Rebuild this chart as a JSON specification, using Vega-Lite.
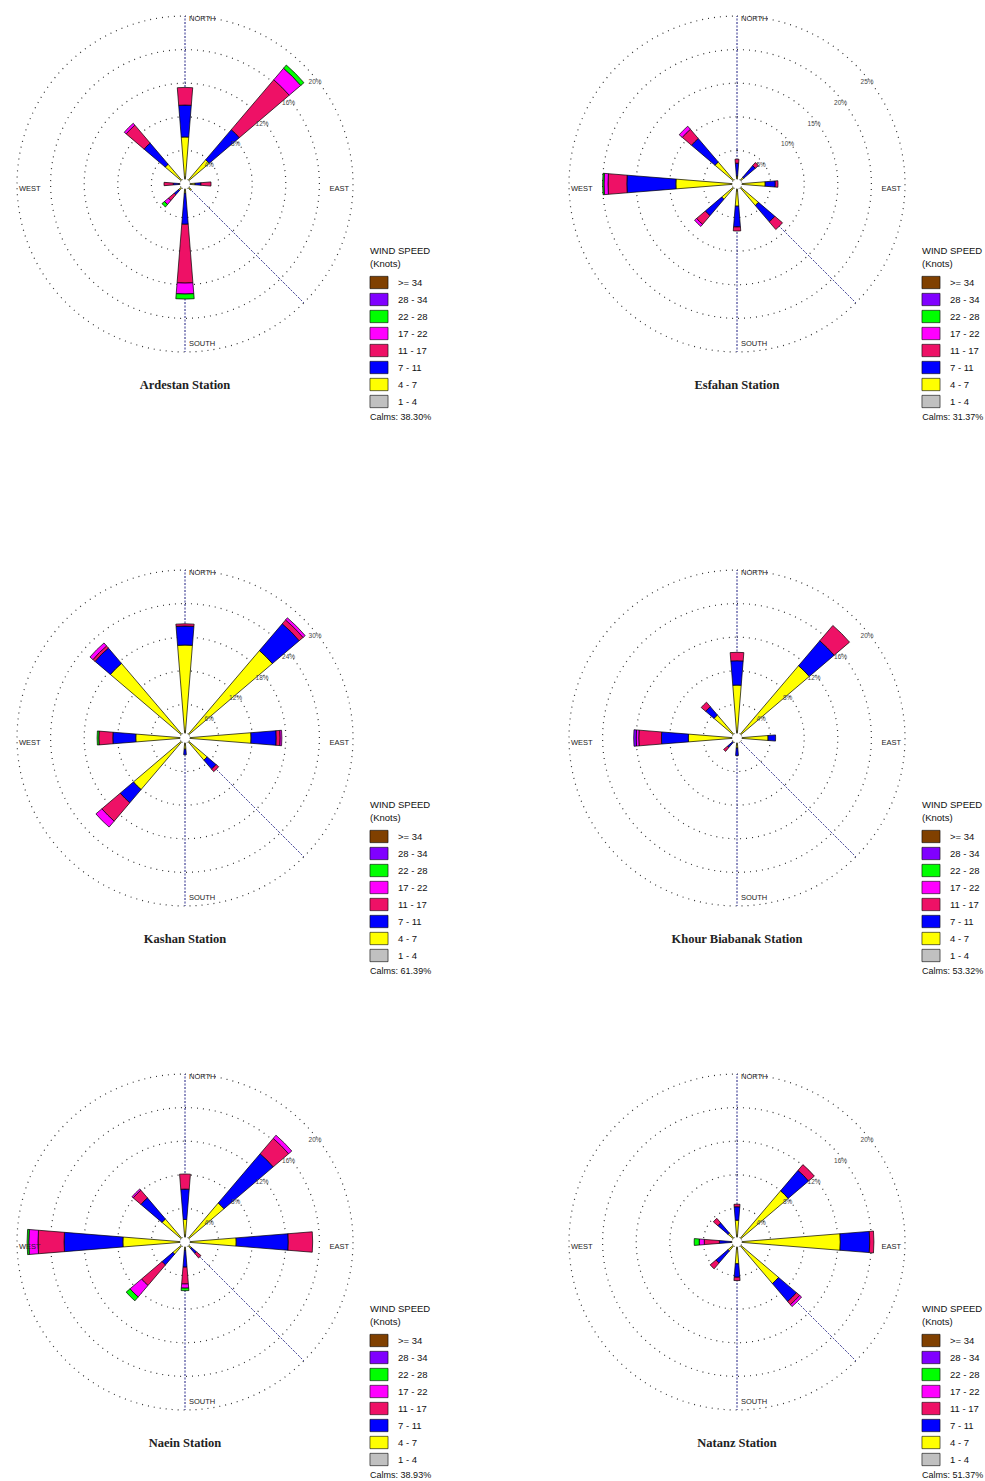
{
"$schema": "https://vega.github.io/schema/vega-lite/v6.json",
"background": "white",
"padding": {"left": 14, "top": 13, "right": 4, "bottom": 4},
"datasets": {
"petals": [
{"st":"Ardestan","dir":0,"spd":"4 - 7","lo":0,"hi":5.6},{"st":"Ardestan","dir":0,"spd":"7 - 11","lo":5.6,"hi":9.4},{"st":"Ardestan","dir":0,"spd":"11 - 17","lo":9.4,"hi":11.5},
{"st":"Ardestan","dir":45,"spd":"4 - 7","lo":0,"hi":3.8},{"st":"Ardestan","dir":45,"spd":"7 - 11","lo":3.8,"hi":8.5},{"st":"Ardestan","dir":45,"spd":"11 - 17","lo":8.5,"hi":16.3},{"st":"Ardestan","dir":45,"spd":"17 - 22","lo":16.3,"hi":18.1},{"st":"Ardestan","dir":45,"spd":"22 - 28","lo":18.1,"hi":18.6},
{"st":"Ardestan","dir":90,"spd":"4 - 7","lo":0,"hi":1.2},{"st":"Ardestan","dir":90,"spd":"7 - 11","lo":1.2,"hi":1.9},{"st":"Ardestan","dir":90,"spd":"11 - 17","lo":1.9,"hi":3.1},
{"st":"Ardestan","dir":135,"spd":"4 - 7","lo":0,"hi":1.0},
{"st":"Ardestan","dir":180,"spd":"4 - 7","lo":0,"hi":1.1},{"st":"Ardestan","dir":180,"spd":"7 - 11","lo":1.1,"hi":4.8},{"st":"Ardestan","dir":180,"spd":"11 - 17","lo":4.8,"hi":11.8},{"st":"Ardestan","dir":180,"spd":"17 - 22","lo":11.8,"hi":13.1},{"st":"Ardestan","dir":180,"spd":"22 - 28","lo":13.1,"hi":13.7},
{"st":"Ardestan","dir":225,"spd":"4 - 7","lo":0,"hi":1.0},{"st":"Ardestan","dir":225,"spd":"7 - 11","lo":1.0,"hi":1.7},{"st":"Ardestan","dir":225,"spd":"11 - 17","lo":1.7,"hi":2.6},{"st":"Ardestan","dir":225,"spd":"17 - 22","lo":2.6,"hi":3.2},{"st":"Ardestan","dir":225,"spd":"22 - 28","lo":3.2,"hi":3.6},
{"st":"Ardestan","dir":270,"spd":"4 - 7","lo":0,"hi":0.7},{"st":"Ardestan","dir":270,"spd":"7 - 11","lo":0.7,"hi":1.4},{"st":"Ardestan","dir":270,"spd":"11 - 17","lo":1.4,"hi":2.5},
{"st":"Ardestan","dir":315,"spd":"4 - 7","lo":0,"hi":3.1},{"st":"Ardestan","dir":315,"spd":"7 - 11","lo":3.1,"hi":6.4},{"st":"Ardestan","dir":315,"spd":"11 - 17","lo":6.4,"hi":9.2},{"st":"Ardestan","dir":315,"spd":"17 - 22","lo":9.2,"hi":9.5},

{"st":"Esfahan","dir":0,"spd":"4 - 7","lo":0,"hi":1.2},{"st":"Esfahan","dir":0,"spd":"7 - 11","lo":1.2,"hi":3.1},{"st":"Esfahan","dir":0,"spd":"11 - 17","lo":3.1,"hi":3.7},
{"st":"Esfahan","dir":45,"spd":"4 - 7","lo":0,"hi":1.3},{"st":"Esfahan","dir":45,"spd":"7 - 11","lo":1.3,"hi":3.6},{"st":"Esfahan","dir":45,"spd":"11 - 17","lo":3.6,"hi":4.2},
{"st":"Esfahan","dir":90,"spd":"4 - 7","lo":0,"hi":4.2},{"st":"Esfahan","dir":90,"spd":"7 - 11","lo":4.2,"hi":5.7},{"st":"Esfahan","dir":90,"spd":"11 - 17","lo":5.7,"hi":6.1},
{"st":"Esfahan","dir":135,"spd":"4 - 7","lo":0,"hi":4.2},{"st":"Esfahan","dir":135,"spd":"7 - 11","lo":4.2,"hi":7.4},{"st":"Esfahan","dir":135,"spd":"11 - 17","lo":7.4,"hi":8.9},
{"st":"Esfahan","dir":180,"spd":"4 - 7","lo":0,"hi":3.3},{"st":"Esfahan","dir":180,"spd":"7 - 11","lo":3.3,"hi":6.4},{"st":"Esfahan","dir":180,"spd":"11 - 17","lo":6.4,"hi":7.0},
{"st":"Esfahan","dir":225,"spd":"4 - 7","lo":0,"hi":3.0},{"st":"Esfahan","dir":225,"spd":"7 - 11","lo":3.0,"hi":6.2},{"st":"Esfahan","dir":225,"spd":"11 - 17","lo":6.2,"hi":7.9},{"st":"Esfahan","dir":225,"spd":"17 - 22","lo":7.9,"hi":8.3},
{"st":"Esfahan","dir":270,"spd":"4 - 7","lo":0,"hi":9.1},{"st":"Esfahan","dir":270,"spd":"7 - 11","lo":9.1,"hi":16.4},{"st":"Esfahan","dir":270,"spd":"11 - 17","lo":16.4,"hi":19.2},{"st":"Esfahan","dir":270,"spd":"17 - 22","lo":19.2,"hi":19.8},{"st":"Esfahan","dir":270,"spd":"22 - 28","lo":19.8,"hi":20.0},
{"st":"Esfahan","dir":315,"spd":"4 - 7","lo":0,"hi":4.3},{"st":"Esfahan","dir":315,"spd":"7 - 11","lo":4.3,"hi":8.9},{"st":"Esfahan","dir":315,"spd":"11 - 17","lo":8.9,"hi":10.7},{"st":"Esfahan","dir":315,"spd":"17 - 22","lo":10.7,"hi":11.3},

{"st":"Kashan","dir":0,"spd":"4 - 7","lo":0,"hi":16.6},{"st":"Kashan","dir":0,"spd":"7 - 11","lo":16.6,"hi":20.0},{"st":"Kashan","dir":0,"spd":"11 - 17","lo":20.0,"hi":20.4},
{"st":"Kashan","dir":45,"spd":"4 - 7","lo":0,"hi":20.5},{"st":"Kashan","dir":45,"spd":"7 - 11","lo":20.5,"hi":26.8},{"st":"Kashan","dir":45,"spd":"11 - 17","lo":26.8,"hi":27.7},{"st":"Kashan","dir":45,"spd":"17 - 22","lo":27.7,"hi":28.2},
{"st":"Kashan","dir":90,"spd":"4 - 7","lo":0,"hi":11.8},{"st":"Kashan","dir":90,"spd":"7 - 11","lo":11.8,"hi":16.3},{"st":"Kashan","dir":90,"spd":"11 - 17","lo":16.3,"hi":17.0},{"st":"Kashan","dir":90,"spd":"17 - 22","lo":17.0,"hi":17.3},
{"st":"Kashan","dir":135,"spd":"4 - 7","lo":0,"hi":5.2},{"st":"Kashan","dir":135,"spd":"7 - 11","lo":5.2,"hi":7.3},{"st":"Kashan","dir":135,"spd":"11 - 17","lo":7.3,"hi":7.9},
{"st":"Kashan","dir":180,"spd":"4 - 7","lo":0,"hi":2.0},{"st":"Kashan","dir":180,"spd":"7 - 11","lo":2.0,"hi":3.0},
{"st":"Kashan","dir":225,"spd":"4 - 7","lo":0,"hi":12.1},{"st":"Kashan","dir":225,"spd":"7 - 11","lo":12.1,"hi":15.2},{"st":"Kashan","dir":225,"spd":"11 - 17","lo":15.2,"hi":19.5},{"st":"Kashan","dir":225,"spd":"17 - 22","lo":19.5,"hi":20.9},
{"st":"Kashan","dir":270,"spd":"4 - 7","lo":0,"hi":8.8},{"st":"Kashan","dir":270,"spd":"7 - 11","lo":8.8,"hi":12.9},{"st":"Kashan","dir":270,"spd":"11 - 17","lo":12.9,"hi":15.4},{"st":"Kashan","dir":270,"spd":"22 - 28","lo":15.4,"hi":15.7},
{"st":"Kashan","dir":315,"spd":"4 - 7","lo":0,"hi":17.5},{"st":"Kashan","dir":315,"spd":"7 - 11","lo":17.5,"hi":21.1},{"st":"Kashan","dir":315,"spd":"11 - 17","lo":21.1,"hi":21.6},{"st":"Kashan","dir":315,"spd":"17 - 22","lo":21.6,"hi":22.3},

{"st":"Khour","dir":0,"spd":"4 - 7","lo":0,"hi":6.3},{"st":"Khour","dir":0,"spd":"7 - 11","lo":6.3,"hi":9.2},{"st":"Khour","dir":0,"spd":"11 - 17","lo":9.2,"hi":10.2},
{"st":"Khour","dir":45,"spd":"4 - 7","lo":0,"hi":11.3},{"st":"Khour","dir":45,"spd":"7 - 11","lo":11.3,"hi":15.2},{"st":"Khour","dir":45,"spd":"11 - 17","lo":15.2,"hi":17.6},
{"st":"Khour","dir":90,"spd":"4 - 7","lo":0,"hi":3.7},{"st":"Khour","dir":90,"spd":"7 - 11","lo":3.7,"hi":4.6},
{"st":"Khour","dir":135,"spd":"4 - 7","lo":0,"hi":0.6},
{"st":"Khour","dir":180,"spd":"4 - 7","lo":0,"hi":1.2},{"st":"Khour","dir":180,"spd":"7 - 11","lo":1.2,"hi":2.1},
{"st":"Khour","dir":225,"spd":"4 - 7","lo":0,"hi":0.7},{"st":"Khour","dir":225,"spd":"7 - 11","lo":0.7,"hi":1.5},{"st":"Khour","dir":225,"spd":"11 - 17","lo":1.5,"hi":2.1},
{"st":"Khour","dir":270,"spd":"4 - 7","lo":0,"hi":5.8},{"st":"Khour","dir":270,"spd":"7 - 11","lo":5.8,"hi":9.0},{"st":"Khour","dir":270,"spd":"11 - 17","lo":9.0,"hi":11.7},{"st":"Khour","dir":270,"spd":"17 - 22","lo":11.7,"hi":12.0},{"st":"Khour","dir":270,"spd":"28 - 34","lo":12.0,"hi":12.3},
{"st":"Khour","dir":315,"spd":"4 - 7","lo":0,"hi":3.6},{"st":"Khour","dir":315,"spd":"7 - 11","lo":3.6,"hi":4.9},{"st":"Khour","dir":315,"spd":"11 - 17","lo":4.9,"hi":5.6},

{"st":"Naein","dir":0,"spd":"4 - 7","lo":0,"hi":2.7},{"st":"Naein","dir":0,"spd":"7 - 11","lo":2.7,"hi":6.3},{"st":"Naein","dir":0,"spd":"11 - 17","lo":6.3,"hi":8.1},
{"st":"Naein","dir":45,"spd":"4 - 7","lo":0,"hi":6.1},{"st":"Naein","dir":45,"spd":"7 - 11","lo":6.1,"hi":13.8},{"st":"Naein","dir":45,"spd":"11 - 17","lo":13.8,"hi":16.2},{"st":"Naein","dir":45,"spd":"17 - 22","lo":16.2,"hi":16.7},
{"st":"Naein","dir":90,"spd":"4 - 7","lo":0,"hi":6.1},{"st":"Naein","dir":90,"spd":"7 - 11","lo":6.1,"hi":12.3},{"st":"Naein","dir":90,"spd":"11 - 17","lo":12.3,"hi":15.2},
{"st":"Naein","dir":135,"spd":"4 - 7","lo":0,"hi":1.0},{"st":"Naein","dir":135,"spd":"7 - 11","lo":1.0,"hi":1.8},{"st":"Naein","dir":135,"spd":"11 - 17","lo":1.8,"hi":2.5},
{"st":"Naein","dir":180,"spd":"4 - 7","lo":0,"hi":1.0},{"st":"Naein","dir":180,"spd":"7 - 11","lo":1.0,"hi":3.0},{"st":"Naein","dir":180,"spd":"11 - 17","lo":3.0,"hi":5.0},{"st":"Naein","dir":180,"spd":"17 - 22","lo":5.0,"hi":5.5},{"st":"Naein","dir":180,"spd":"22 - 28","lo":5.5,"hi":5.8},
{"st":"Naein","dir":225,"spd":"4 - 7","lo":0,"hi":1.9},{"st":"Naein","dir":225,"spd":"7 - 11","lo":1.9,"hi":3.6},{"st":"Naein","dir":225,"spd":"11 - 17","lo":3.6,"hi":6.8},{"st":"Naein","dir":225,"spd":"17 - 22","lo":6.8,"hi":8.6},{"st":"Naein","dir":225,"spd":"22 - 28","lo":8.6,"hi":9.2},
{"st":"Naein","dir":270,"spd":"4 - 7","lo":0,"hi":7.4},{"st":"Naein","dir":270,"spd":"7 - 11","lo":7.4,"hi":14.4},{"st":"Naein","dir":270,"spd":"11 - 17","lo":14.4,"hi":17.5},{"st":"Naein","dir":270,"spd":"17 - 22","lo":17.5,"hi":18.6},{"st":"Naein","dir":270,"spd":"22 - 28","lo":18.6,"hi":18.8},
{"st":"Naein","dir":315,"spd":"4 - 7","lo":0,"hi":3.6},{"st":"Naein","dir":315,"spd":"7 - 11","lo":3.6,"hi":6.9},{"st":"Naein","dir":315,"spd":"11 - 17","lo":6.9,"hi":8.1},{"st":"Naein","dir":315,"spd":"17 - 22","lo":8.1,"hi":8.3},

{"st":"Natanz","dir":0,"spd":"4 - 7","lo":0,"hi":2.6},{"st":"Natanz","dir":0,"spd":"7 - 11","lo":2.6,"hi":4.2},{"st":"Natanz","dir":0,"spd":"11 - 17","lo":4.2,"hi":4.5},
{"st":"Natanz","dir":45,"spd":"4 - 7","lo":0,"hi":8.0},{"st":"Natanz","dir":45,"spd":"7 - 11","lo":8.0,"hi":11.2},{"st":"Natanz","dir":45,"spd":"11 - 17","lo":11.2,"hi":12.1},
{"st":"Natanz","dir":90,"spd":"4 - 7","lo":0,"hi":12.3},{"st":"Natanz","dir":90,"spd":"7 - 11","lo":12.3,"hi":15.8},{"st":"Natanz","dir":90,"spd":"11 - 17","lo":15.8,"hi":16.3},
{"st":"Natanz","dir":135,"spd":"4 - 7","lo":0,"hi":6.5},{"st":"Natanz","dir":135,"spd":"7 - 11","lo":6.5,"hi":9.3},{"st":"Natanz","dir":135,"spd":"11 - 17","lo":9.3,"hi":9.8},{"st":"Natanz","dir":135,"spd":"17 - 22","lo":9.8,"hi":10.1},
{"st":"Natanz","dir":180,"spd":"4 - 7","lo":0,"hi":2.6},{"st":"Natanz","dir":180,"spd":"7 - 11","lo":2.6,"hi":4.2},{"st":"Natanz","dir":180,"spd":"11 - 17","lo":4.2,"hi":4.6},
{"st":"Natanz","dir":225,"spd":"4 - 7","lo":0,"hi":1.4},{"st":"Natanz","dir":225,"spd":"7 - 11","lo":1.4,"hi":3.3},{"st":"Natanz","dir":225,"spd":"11 - 17","lo":3.3,"hi":4.2},
{"st":"Natanz","dir":270,"spd":"4 - 7","lo":0,"hi":0.7},{"st":"Natanz","dir":270,"spd":"7 - 11","lo":0.7,"hi":2.1},{"st":"Natanz","dir":270,"spd":"11 - 17","lo":2.1,"hi":3.9},{"st":"Natanz","dir":270,"spd":"17 - 22","lo":3.9,"hi":4.5},{"st":"Natanz","dir":270,"spd":"22 - 28","lo":4.5,"hi":5.1},
{"st":"Natanz","dir":315,"spd":"4 - 7","lo":0,"hi":1.4},{"st":"Natanz","dir":315,"spd":"7 - 11","lo":1.4,"hi":3.0},{"st":"Natanz","dir":315,"spd":"11 - 17","lo":3.0,"hi":3.7}
],
"rings": [
{"st":"Ardestan","ring":4,"lab":"4%"},{"st":"Ardestan","ring":8,"lab":"8%"},{"st":"Ardestan","ring":12,"lab":"12%"},{"st":"Ardestan","ring":16,"lab":"16%"},{"st":"Ardestan","ring":20,"lab":"20%"},
{"st":"Esfahan","ring":5,"lab":"5%"},{"st":"Esfahan","ring":10,"lab":"10%"},{"st":"Esfahan","ring":15,"lab":"15%"},{"st":"Esfahan","ring":20,"lab":"20%"},{"st":"Esfahan","ring":25,"lab":"25%"},
{"st":"Kashan","ring":6,"lab":"6%"},{"st":"Kashan","ring":12,"lab":"12%"},{"st":"Kashan","ring":18,"lab":"18%"},{"st":"Kashan","ring":24,"lab":"24%"},{"st":"Kashan","ring":30,"lab":"30%"},
{"st":"Khour","ring":4,"lab":"4%"},{"st":"Khour","ring":8,"lab":"8%"},{"st":"Khour","ring":12,"lab":"12%"},{"st":"Khour","ring":16,"lab":"16%"},{"st":"Khour","ring":20,"lab":"20%"},
{"st":"Naein","ring":4,"lab":"4%"},{"st":"Naein","ring":8,"lab":"8%"},{"st":"Naein","ring":12,"lab":"12%"},{"st":"Naein","ring":16,"lab":"16%"},{"st":"Naein","ring":20,"lab":"20%"},
{"st":"Natanz","ring":4,"lab":"4%"},{"st":"Natanz","ring":8,"lab":"8%"},{"st":"Natanz","ring":12,"lab":"12%"},{"st":"Natanz","ring":16,"lab":"16%"},{"st":"Natanz","ring":20,"lab":"20%"}
],
"calms": [
{"st":"Ardestan","label":"Calms: 38.30%"},{"st":"Esfahan","label":"Calms: 31.37%"},{"st":"Kashan","label":"Calms: 61.39%"},
{"st":"Khour","label":"Calms: 53.32%"},{"st":"Naein","label":"Calms: 38.93%"},{"st":"Natanz","label":"Calms: 51.37%"}
]
},
"config": {
"view": {"stroke": null},
"title": {"font": "Liberation Serif", "fontSize": 12.5, "fontWeight": "bold", "color": "#222", "orient": "bottom", "frame": "group", "offset": -43},
"legend": {"orient": "none", "legendX": 353, "legendY": 230, "padding": 0,
 "titleFont": "Liberation Sans", "titleFontSize": 9.5, "titleFontWeight": "normal", "titleColor": "#111", "titleLineHeight": 13, "titlePadding": 5,
 "labelFont": "Liberation Sans", "labelFontSize": 9.5, "labelColor": "#111", "labelOffset": 10,
 "symbolType": "M-1.1,-0.75H1.1V0.75H-1.1Z", "symbolSize": 270, "symbolStrokeColor": "#000", "symbolStrokeWidth": 0.6, "symbolOpacity": 1, "rowPadding": -0.3}
},
"spacing": 145,
"resolve": {"scale": {"color": "independent", "theta": "independent", "radius": "independent"}, "legend": {"color": "independent"}},
"vconcat": [
{"hconcat": [
{"width": 336, "height": 336, "title": "Ardestan Station",
 "layer": [
 {"data": {"name": "rings"}, "transform": [{"filter": "datum.st=='Ardestan'"}], "mark": {"type": "arc", "filled": false, "stroke": "#333", "strokeWidth": 1.2, "strokeDash": [1, 5]},
  "encoding": {"theta": {"datum": 0, "scale": {"domain": [0, 360], "range": [0, 6.283185307179586]}}, "theta2": {"datum": 360}, "radius": {"field": "ring", "type": "quantitative", "stack": null, "scale": {"type": "linear", "domain": [0, 20], "range": [0, 168], "zero": true, "nice": false}}}},
 {"data": {"values": [{"a": 0}, {"a": 135}, {"a": 180}]}, "mark": {"type": "arc", "filled": false, "stroke": "#1a1a80", "strokeWidth": 1, "strokeDash": [1, 2.5]},
  "encoding": {"theta": {"field": "a", "type": "quantitative", "stack": null, "scale": {"domain": [0, 360], "range": [0, 6.283185307179586]}}, "theta2": {"field": "a"}, "radius": {"datum": 20, "scale": {"type": "linear", "domain": [0, 20], "range": [0, 168], "zero": true, "nice": false}}}},
 {"data": {"name": "petals"}, "transform": [{"filter": "datum.st=='Ardestan'"}], "mark": {"type": "arc", "stroke": "#000", "strokeWidth": 0.7, "thetaOffset": -0.08, "theta2Offset": 0.08},
  "encoding": {"theta": {"field": "dir", "type": "quantitative", "stack": null, "scale": {"domain": [0, 360], "range": [0, 6.283185307179586]}}, "theta2": {"field": "dir"},
   "radius": {"field": "hi", "type": "quantitative", "stack": null, "scale": {"type": "linear", "domain": [0, 20], "range": [0, 168], "zero": true, "nice": false}}, "radius2": {"field": "lo"},
   "color": {"field": "spd", "type": "nominal", "scale": {"domain": [">= 34", "28 - 34", "22 - 28", "17 - 22", "11 - 17", "7 - 11", "4 - 7", "1 - 4"], "range": ["#804000", "#8000FF", "#00FF00", "#FF00FF", "#EE1166", "#0000FF", "#FFFF00", "#C0C0C0"]}, "legend": {"title": ["WIND SPEED", "(Knots)"]}}}},
 {"data": {"values": [{}]}, "mark": {"type": "arc", "fill": "#fff", "stroke": "#333", "strokeWidth": 0.8, "strokeDash": [1, 1.5]},
  "encoding": {"theta": {"datum": 0, "scale": {"domain": [0, 360], "range": [0, 6.283185307179586]}}, "theta2": {"datum": 360}, "radius": {"datum": 0.6, "scale": {"type": "linear", "domain": [0, 20], "range": [0, 168], "zero": true, "nice": false}}}},
 {"data": {"name": "rings"}, "transform": [{"filter": "datum.st=='Ardestan'"}], "mark": {"type": "text", "font": "Liberation Sans", "fontSize": 6.5, "color": "#444", "radiusOffset": -3},
  "encoding": {"theta": {"datum": 52, "scale": {"domain": [0, 360], "range": [0, 6.283185307179586]}}, "radius": {"field": "ring", "type": "quantitative", "stack": null, "scale": {"type": "linear", "domain": [0, 20], "range": [0, 168], "zero": true, "nice": false}}, "text": {"field": "lab"}}},
 {"data": {"values": [{}]}, "mark": {"type": "text", "text": "NORTH", "align": "left", "baseline": "middle", "dx": 4, "dy": 3, "font": "Liberation Sans", "fontSize": 7.5, "color": "#222"},
  "encoding": {"theta": {"datum": 0, "scale": {"domain": [0, 360], "range": [0, 6.283185307179586]}}, "radius": {"datum": 20, "scale": {"type": "linear", "domain": [0, 20], "range": [0, 168], "zero": true, "nice": false}}}},
 {"data": {"values": [{}]}, "mark": {"type": "text", "text": "SOUTH", "align": "left", "baseline": "middle", "dx": 4, "dy": -8, "font": "Liberation Sans", "fontSize": 7.5, "color": "#222"},
  "encoding": {"theta": {"datum": 180, "scale": {"domain": [0, 360], "range": [0, 6.283185307179586]}}, "radius": {"datum": 20, "scale": {"type": "linear", "domain": [0, 20], "range": [0, 168], "zero": true, "nice": false}}}},
 {"data": {"values": [{}]}, "mark": {"type": "text", "text": "WEST", "align": "left", "baseline": "middle", "dx": 2, "dy": 5, "font": "Liberation Sans", "fontSize": 7.5, "color": "#222"},
  "encoding": {"theta": {"datum": 270, "scale": {"domain": [0, 360], "range": [0, 6.283185307179586]}}, "radius": {"datum": 20, "scale": {"type": "linear", "domain": [0, 20], "range": [0, 168], "zero": true, "nice": false}}}},
 {"data": {"values": [{}]}, "mark": {"type": "text", "text": "EAST", "align": "right", "baseline": "middle", "dx": -4, "dy": 5, "font": "Liberation Sans", "fontSize": 7.5, "color": "#222"},
  "encoding": {"theta": {"datum": 90, "scale": {"domain": [0, 360], "range": [0, 6.283185307179586]}}, "radius": {"datum": 20, "scale": {"type": "linear", "domain": [0, 20], "range": [0, 168], "zero": true, "nice": false}}}},
 {"data": {"name": "calms"}, "transform": [{"filter": "datum.st=='Ardestan'"}], "mark": {"type": "text", "align": "left", "baseline": "middle", "font": "Liberation Sans", "fontSize": 9, "color": "#111"},
  "encoding": {"theta": {"datum": 141.5, "scale": {"domain": [0, 360], "range": [0, 6.283185307179586]}}, "radius": {"datum": 35.4, "scale": {"type": "linear", "domain": [0, 20], "range": [0, 168], "zero": true, "nice": false}}, "text": {"field": "label"}}}
 ]},
{"width": 336, "height": 336, "title": "Esfahan Station",
 "layer": [
 {"data": {"name": "rings"}, "transform": [{"filter": "datum.st=='Esfahan'"}], "mark": {"type": "arc", "filled": false, "stroke": "#333", "strokeWidth": 1.2, "strokeDash": [1, 5]},
  "encoding": {"theta": {"datum": 0, "scale": {"domain": [0, 360], "range": [0, 6.283185307179586]}}, "theta2": {"datum": 360}, "radius": {"field": "ring", "type": "quantitative", "stack": null, "scale": {"type": "linear", "domain": [0, 25], "range": [0, 168], "zero": true, "nice": false}}}},
 {"data": {"values": [{"a": 0}, {"a": 135}, {"a": 180}]}, "mark": {"type": "arc", "filled": false, "stroke": "#1a1a80", "strokeWidth": 1, "strokeDash": [1, 2.5]},
  "encoding": {"theta": {"field": "a", "type": "quantitative", "stack": null, "scale": {"domain": [0, 360], "range": [0, 6.283185307179586]}}, "theta2": {"field": "a"}, "radius": {"datum": 25, "scale": {"type": "linear", "domain": [0, 25], "range": [0, 168], "zero": true, "nice": false}}}},
 {"data": {"name": "petals"}, "transform": [{"filter": "datum.st=='Esfahan'"}], "mark": {"type": "arc", "stroke": "#000", "strokeWidth": 0.7, "thetaOffset": -0.08, "theta2Offset": 0.08},
  "encoding": {"theta": {"field": "dir", "type": "quantitative", "stack": null, "scale": {"domain": [0, 360], "range": [0, 6.283185307179586]}}, "theta2": {"field": "dir"},
   "radius": {"field": "hi", "type": "quantitative", "stack": null, "scale": {"type": "linear", "domain": [0, 25], "range": [0, 168], "zero": true, "nice": false}}, "radius2": {"field": "lo"},
   "color": {"field": "spd", "type": "nominal", "scale": {"domain": [">= 34", "28 - 34", "22 - 28", "17 - 22", "11 - 17", "7 - 11", "4 - 7", "1 - 4"], "range": ["#804000", "#8000FF", "#00FF00", "#FF00FF", "#EE1166", "#0000FF", "#FFFF00", "#C0C0C0"]}, "legend": {"title": ["WIND SPEED", "(Knots)"]}}}},
 {"data": {"values": [{}]}, "mark": {"type": "arc", "fill": "#fff", "stroke": "#333", "strokeWidth": 0.8, "strokeDash": [1, 1.5]},
  "encoding": {"theta": {"datum": 0, "scale": {"domain": [0, 360], "range": [0, 6.283185307179586]}}, "theta2": {"datum": 360}, "radius": {"datum": 0.74, "scale": {"type": "linear", "domain": [0, 25], "range": [0, 168], "zero": true, "nice": false}}}},
 {"data": {"name": "rings"}, "transform": [{"filter": "datum.st=='Esfahan'"}], "mark": {"type": "text", "font": "Liberation Sans", "fontSize": 6.5, "color": "#444", "radiusOffset": -3},
  "encoding": {"theta": {"datum": 52, "scale": {"domain": [0, 360], "range": [0, 6.283185307179586]}}, "radius": {"field": "ring", "type": "quantitative", "stack": null, "scale": {"type": "linear", "domain": [0, 25], "range": [0, 168], "zero": true, "nice": false}}, "text": {"field": "lab"}}},
 {"data": {"values": [{}]}, "mark": {"type": "text", "text": "NORTH", "align": "left", "baseline": "middle", "dx": 4, "dy": 3, "font": "Liberation Sans", "fontSize": 7.5, "color": "#222"},
  "encoding": {"theta": {"datum": 0, "scale": {"domain": [0, 360], "range": [0, 6.283185307179586]}}, "radius": {"datum": 25, "scale": {"type": "linear", "domain": [0, 25], "range": [0, 168], "zero": true, "nice": false}}}},
 {"data": {"values": [{}]}, "mark": {"type": "text", "text": "SOUTH", "align": "left", "baseline": "middle", "dx": 4, "dy": -8, "font": "Liberation Sans", "fontSize": 7.5, "color": "#222"},
  "encoding": {"theta": {"datum": 180, "scale": {"domain": [0, 360], "range": [0, 6.283185307179586]}}, "radius": {"datum": 25, "scale": {"type": "linear", "domain": [0, 25], "range": [0, 168], "zero": true, "nice": false}}}},
 {"data": {"values": [{}]}, "mark": {"type": "text", "text": "WEST", "align": "left", "baseline": "middle", "dx": 2, "dy": 5, "font": "Liberation Sans", "fontSize": 7.5, "color": "#222"},
  "encoding": {"theta": {"datum": 270, "scale": {"domain": [0, 360], "range": [0, 6.283185307179586]}}, "radius": {"datum": 25, "scale": {"type": "linear", "domain": [0, 25], "range": [0, 168], "zero": true, "nice": false}}}},
 {"data": {"values": [{}]}, "mark": {"type": "text", "text": "EAST", "align": "right", "baseline": "middle", "dx": -4, "dy": 5, "font": "Liberation Sans", "fontSize": 7.5, "color": "#222"},
  "encoding": {"theta": {"datum": 90, "scale": {"domain": [0, 360], "range": [0, 6.283185307179586]}}, "radius": {"datum": 25, "scale": {"type": "linear", "domain": [0, 25], "range": [0, 168], "zero": true, "nice": false}}}},
 {"data": {"name": "calms"}, "transform": [{"filter": "datum.st=='Esfahan'"}], "mark": {"type": "text", "align": "left", "baseline": "middle", "font": "Liberation Sans", "fontSize": 9, "color": "#111"},
  "encoding": {"theta": {"datum": 141.5, "scale": {"domain": [0, 360], "range": [0, 6.283185307179586]}}, "radius": {"datum": 44.3, "scale": {"type": "linear", "domain": [0, 25], "range": [0, 168], "zero": true, "nice": false}}, "text": {"field": "label"}}}
 ]}
], "spacing": 216, "bounds": "flush",
 "resolve": {"scale": {"color": "independent", "theta": "independent", "radius": "independent"}, "legend": {"color": "independent"}}},
{"vconcat": [
{"hconcat": [
{"width": 336, "height": 336, "title": "Kashan Station",
 "layer": [
 {"data": {"name": "rings"}, "transform": [{"filter": "datum.st=='Kashan'"}], "mark": {"type": "arc", "filled": false, "stroke": "#333", "strokeWidth": 1.2, "strokeDash": [1, 5]},
  "encoding": {"theta": {"datum": 0, "scale": {"domain": [0, 360], "range": [0, 6.283185307179586]}}, "theta2": {"datum": 360}, "radius": {"field": "ring", "type": "quantitative", "stack": null, "scale": {"type": "linear", "domain": [0, 30], "range": [0, 168], "zero": true, "nice": false}}}},
 {"data": {"values": [{"a": 0}, {"a": 135}, {"a": 180}]}, "mark": {"type": "arc", "filled": false, "stroke": "#1a1a80", "strokeWidth": 1, "strokeDash": [1, 2.5]},
  "encoding": {"theta": {"field": "a", "type": "quantitative", "stack": null, "scale": {"domain": [0, 360], "range": [0, 6.283185307179586]}}, "theta2": {"field": "a"}, "radius": {"datum": 30, "scale": {"type": "linear", "domain": [0, 30], "range": [0, 168], "zero": true, "nice": false}}}},
 {"data": {"name": "petals"}, "transform": [{"filter": "datum.st=='Kashan'"}], "mark": {"type": "arc", "stroke": "#000", "strokeWidth": 0.7, "thetaOffset": -0.08, "theta2Offset": 0.08},
  "encoding": {"theta": {"field": "dir", "type": "quantitative", "stack": null, "scale": {"domain": [0, 360], "range": [0, 6.283185307179586]}}, "theta2": {"field": "dir"},
   "radius": {"field": "hi", "type": "quantitative", "stack": null, "scale": {"type": "linear", "domain": [0, 30], "range": [0, 168], "zero": true, "nice": false}}, "radius2": {"field": "lo"},
   "color": {"field": "spd", "type": "nominal", "scale": {"domain": [">= 34", "28 - 34", "22 - 28", "17 - 22", "11 - 17", "7 - 11", "4 - 7", "1 - 4"], "range": ["#804000", "#8000FF", "#00FF00", "#FF00FF", "#EE1166", "#0000FF", "#FFFF00", "#C0C0C0"]}, "legend": {"title": ["WIND SPEED", "(Knots)"]}}}},
 {"data": {"values": [{}]}, "mark": {"type": "arc", "fill": "#fff", "stroke": "#333", "strokeWidth": 0.8, "strokeDash": [1, 1.5]},
  "encoding": {"theta": {"datum": 0, "scale": {"domain": [0, 360], "range": [0, 6.283185307179586]}}, "theta2": {"datum": 360}, "radius": {"datum": 0.89, "scale": {"type": "linear", "domain": [0, 30], "range": [0, 168], "zero": true, "nice": false}}}},
 {"data": {"name": "rings"}, "transform": [{"filter": "datum.st=='Kashan'"}], "mark": {"type": "text", "font": "Liberation Sans", "fontSize": 6.5, "color": "#444", "radiusOffset": -3},
  "encoding": {"theta": {"datum": 52, "scale": {"domain": [0, 360], "range": [0, 6.283185307179586]}}, "radius": {"field": "ring", "type": "quantitative", "stack": null, "scale": {"type": "linear", "domain": [0, 30], "range": [0, 168], "zero": true, "nice": false}}, "text": {"field": "lab"}}},
 {"data": {"values": [{}]}, "mark": {"type": "text", "text": "NORTH", "align": "left", "baseline": "middle", "dx": 4, "dy": 3, "font": "Liberation Sans", "fontSize": 7.5, "color": "#222"},
  "encoding": {"theta": {"datum": 0, "scale": {"domain": [0, 360], "range": [0, 6.283185307179586]}}, "radius": {"datum": 30, "scale": {"type": "linear", "domain": [0, 30], "range": [0, 168], "zero": true, "nice": false}}}},
 {"data": {"values": [{}]}, "mark": {"type": "text", "text": "SOUTH", "align": "left", "baseline": "middle", "dx": 4, "dy": -8, "font": "Liberation Sans", "fontSize": 7.5, "color": "#222"},
  "encoding": {"theta": {"datum": 180, "scale": {"domain": [0, 360], "range": [0, 6.283185307179586]}}, "radius": {"datum": 30, "scale": {"type": "linear", "domain": [0, 30], "range": [0, 168], "zero": true, "nice": false}}}},
 {"data": {"values": [{}]}, "mark": {"type": "text", "text": "WEST", "align": "left", "baseline": "middle", "dx": 2, "dy": 5, "font": "Liberation Sans", "fontSize": 7.5, "color": "#222"},
  "encoding": {"theta": {"datum": 270, "scale": {"domain": [0, 360], "range": [0, 6.283185307179586]}}, "radius": {"datum": 30, "scale": {"type": "linear", "domain": [0, 30], "range": [0, 168], "zero": true, "nice": false}}}},
 {"data": {"values": [{}]}, "mark": {"type": "text", "text": "EAST", "align": "right", "baseline": "middle", "dx": -4, "dy": 5, "font": "Liberation Sans", "fontSize": 7.5, "color": "#222"},
  "encoding": {"theta": {"datum": 90, "scale": {"domain": [0, 360], "range": [0, 6.283185307179586]}}, "radius": {"datum": 30, "scale": {"type": "linear", "domain": [0, 30], "range": [0, 168], "zero": true, "nice": false}}}},
 {"data": {"name": "calms"}, "transform": [{"filter": "datum.st=='Kashan'"}], "mark": {"type": "text", "align": "left", "baseline": "middle", "font": "Liberation Sans", "fontSize": 9, "color": "#111"},
  "encoding": {"theta": {"datum": 141.5, "scale": {"domain": [0, 360], "range": [0, 6.283185307179586]}}, "radius": {"datum": 53.1, "scale": {"type": "linear", "domain": [0, 30], "range": [0, 168], "zero": true, "nice": false}}, "text": {"field": "label"}}}
 ]},
{"width": 336, "height": 336, "title": "Khour Biabanak Station",
 "layer": [
 {"data": {"name": "rings"}, "transform": [{"filter": "datum.st=='Khour'"}], "mark": {"type": "arc", "filled": false, "stroke": "#333", "strokeWidth": 1.2, "strokeDash": [1, 5]},
  "encoding": {"theta": {"datum": 0, "scale": {"domain": [0, 360], "range": [0, 6.283185307179586]}}, "theta2": {"datum": 360}, "radius": {"field": "ring", "type": "quantitative", "stack": null, "scale": {"type": "linear", "domain": [0, 20], "range": [0, 168], "zero": true, "nice": false}}}},
 {"data": {"values": [{"a": 0}, {"a": 135}, {"a": 180}]}, "mark": {"type": "arc", "filled": false, "stroke": "#1a1a80", "strokeWidth": 1, "strokeDash": [1, 2.5]},
  "encoding": {"theta": {"field": "a", "type": "quantitative", "stack": null, "scale": {"domain": [0, 360], "range": [0, 6.283185307179586]}}, "theta2": {"field": "a"}, "radius": {"datum": 20, "scale": {"type": "linear", "domain": [0, 20], "range": [0, 168], "zero": true, "nice": false}}}},
 {"data": {"name": "petals"}, "transform": [{"filter": "datum.st=='Khour'"}], "mark": {"type": "arc", "stroke": "#000", "strokeWidth": 0.7, "thetaOffset": -0.08, "theta2Offset": 0.08},
  "encoding": {"theta": {"field": "dir", "type": "quantitative", "stack": null, "scale": {"domain": [0, 360], "range": [0, 6.283185307179586]}}, "theta2": {"field": "dir"},
   "radius": {"field": "hi", "type": "quantitative", "stack": null, "scale": {"type": "linear", "domain": [0, 20], "range": [0, 168], "zero": true, "nice": false}}, "radius2": {"field": "lo"},
   "color": {"field": "spd", "type": "nominal", "scale": {"domain": [">= 34", "28 - 34", "22 - 28", "17 - 22", "11 - 17", "7 - 11", "4 - 7", "1 - 4"], "range": ["#804000", "#8000FF", "#00FF00", "#FF00FF", "#EE1166", "#0000FF", "#FFFF00", "#C0C0C0"]}, "legend": {"title": ["WIND SPEED", "(Knots)"]}}}},
 {"data": {"values": [{}]}, "mark": {"type": "arc", "fill": "#fff", "stroke": "#333", "strokeWidth": 0.8, "strokeDash": [1, 1.5]},
  "encoding": {"theta": {"datum": 0, "scale": {"domain": [0, 360], "range": [0, 6.283185307179586]}}, "theta2": {"datum": 360}, "radius": {"datum": 0.6, "scale": {"type": "linear", "domain": [0, 20], "range": [0, 168], "zero": true, "nice": false}}}},
 {"data": {"name": "rings"}, "transform": [{"filter": "datum.st=='Khour'"}], "mark": {"type": "text", "font": "Liberation Sans", "fontSize": 6.5, "color": "#444", "radiusOffset": -3},
  "encoding": {"theta": {"datum": 52, "scale": {"domain": [0, 360], "range": [0, 6.283185307179586]}}, "radius": {"field": "ring", "type": "quantitative", "stack": null, "scale": {"type": "linear", "domain": [0, 20], "range": [0, 168], "zero": true, "nice": false}}, "text": {"field": "lab"}}},
 {"data": {"values": [{}]}, "mark": {"type": "text", "text": "NORTH", "align": "left", "baseline": "middle", "dx": 4, "dy": 3, "font": "Liberation Sans", "fontSize": 7.5, "color": "#222"},
  "encoding": {"theta": {"datum": 0, "scale": {"domain": [0, 360], "range": [0, 6.283185307179586]}}, "radius": {"datum": 20, "scale": {"type": "linear", "domain": [0, 20], "range": [0, 168], "zero": true, "nice": false}}}},
 {"data": {"values": [{}]}, "mark": {"type": "text", "text": "SOUTH", "align": "left", "baseline": "middle", "dx": 4, "dy": -8, "font": "Liberation Sans", "fontSize": 7.5, "color": "#222"},
  "encoding": {"theta": {"datum": 180, "scale": {"domain": [0, 360], "range": [0, 6.283185307179586]}}, "radius": {"datum": 20, "scale": {"type": "linear", "domain": [0, 20], "range": [0, 168], "zero": true, "nice": false}}}},
 {"data": {"values": [{}]}, "mark": {"type": "text", "text": "WEST", "align": "left", "baseline": "middle", "dx": 2, "dy": 5, "font": "Liberation Sans", "fontSize": 7.5, "color": "#222"},
  "encoding": {"theta": {"datum": 270, "scale": {"domain": [0, 360], "range": [0, 6.283185307179586]}}, "radius": {"datum": 20, "scale": {"type": "linear", "domain": [0, 20], "range": [0, 168], "zero": true, "nice": false}}}},
 {"data": {"values": [{}]}, "mark": {"type": "text", "text": "EAST", "align": "right", "baseline": "middle", "dx": -4, "dy": 5, "font": "Liberation Sans", "fontSize": 7.5, "color": "#222"},
  "encoding": {"theta": {"datum": 90, "scale": {"domain": [0, 360], "range": [0, 6.283185307179586]}}, "radius": {"datum": 20, "scale": {"type": "linear", "domain": [0, 20], "range": [0, 168], "zero": true, "nice": false}}}},
 {"data": {"name": "calms"}, "transform": [{"filter": "datum.st=='Khour'"}], "mark": {"type": "text", "align": "left", "baseline": "middle", "font": "Liberation Sans", "fontSize": 9, "color": "#111"},
  "encoding": {"theta": {"datum": 141.5, "scale": {"domain": [0, 360], "range": [0, 6.283185307179586]}}, "radius": {"datum": 35.4, "scale": {"type": "linear", "domain": [0, 20], "range": [0, 168], "zero": true, "nice": false}}, "text": {"field": "label"}}}
 ]}
], "spacing": 216, "bounds": "flush",
 "resolve": {"scale": {"color": "independent", "theta": "independent", "radius": "independent"}, "legend": {"color": "independent"}}},
{"hconcat": [
{"width": 336, "height": 336, "title": "Naein Station",
 "layer": [
 {"data": {"name": "rings"}, "transform": [{"filter": "datum.st=='Naein'"}], "mark": {"type": "arc", "filled": false, "stroke": "#333", "strokeWidth": 1.2, "strokeDash": [1, 5]},
  "encoding": {"theta": {"datum": 0, "scale": {"domain": [0, 360], "range": [0, 6.283185307179586]}}, "theta2": {"datum": 360}, "radius": {"field": "ring", "type": "quantitative", "stack": null, "scale": {"type": "linear", "domain": [0, 20], "range": [0, 168], "zero": true, "nice": false}}}},
 {"data": {"values": [{"a": 0}, {"a": 135}, {"a": 180}]}, "mark": {"type": "arc", "filled": false, "stroke": "#1a1a80", "strokeWidth": 1, "strokeDash": [1, 2.5]},
  "encoding": {"theta": {"field": "a", "type": "quantitative", "stack": null, "scale": {"domain": [0, 360], "range": [0, 6.283185307179586]}}, "theta2": {"field": "a"}, "radius": {"datum": 20, "scale": {"type": "linear", "domain": [0, 20], "range": [0, 168], "zero": true, "nice": false}}}},
 {"data": {"name": "petals"}, "transform": [{"filter": "datum.st=='Naein'"}], "mark": {"type": "arc", "stroke": "#000", "strokeWidth": 0.7, "thetaOffset": -0.08, "theta2Offset": 0.08},
  "encoding": {"theta": {"field": "dir", "type": "quantitative", "stack": null, "scale": {"domain": [0, 360], "range": [0, 6.283185307179586]}}, "theta2": {"field": "dir"},
   "radius": {"field": "hi", "type": "quantitative", "stack": null, "scale": {"type": "linear", "domain": [0, 20], "range": [0, 168], "zero": true, "nice": false}}, "radius2": {"field": "lo"},
   "color": {"field": "spd", "type": "nominal", "scale": {"domain": [">= 34", "28 - 34", "22 - 28", "17 - 22", "11 - 17", "7 - 11", "4 - 7", "1 - 4"], "range": ["#804000", "#8000FF", "#00FF00", "#FF00FF", "#EE1166", "#0000FF", "#FFFF00", "#C0C0C0"]}, "legend": {"title": ["WIND SPEED", "(Knots)"]}}}},
 {"data": {"values": [{}]}, "mark": {"type": "arc", "fill": "#fff", "stroke": "#333", "strokeWidth": 0.8, "strokeDash": [1, 1.5]},
  "encoding": {"theta": {"datum": 0, "scale": {"domain": [0, 360], "range": [0, 6.283185307179586]}}, "theta2": {"datum": 360}, "radius": {"datum": 0.6, "scale": {"type": "linear", "domain": [0, 20], "range": [0, 168], "zero": true, "nice": false}}}},
 {"data": {"name": "rings"}, "transform": [{"filter": "datum.st=='Naein'"}], "mark": {"type": "text", "font": "Liberation Sans", "fontSize": 6.5, "color": "#444", "radiusOffset": -3},
  "encoding": {"theta": {"datum": 52, "scale": {"domain": [0, 360], "range": [0, 6.283185307179586]}}, "radius": {"field": "ring", "type": "quantitative", "stack": null, "scale": {"type": "linear", "domain": [0, 20], "range": [0, 168], "zero": true, "nice": false}}, "text": {"field": "lab"}}},
 {"data": {"values": [{}]}, "mark": {"type": "text", "text": "NORTH", "align": "left", "baseline": "middle", "dx": 4, "dy": 3, "font": "Liberation Sans", "fontSize": 7.5, "color": "#222"},
  "encoding": {"theta": {"datum": 0, "scale": {"domain": [0, 360], "range": [0, 6.283185307179586]}}, "radius": {"datum": 20, "scale": {"type": "linear", "domain": [0, 20], "range": [0, 168], "zero": true, "nice": false}}}},
 {"data": {"values": [{}]}, "mark": {"type": "text", "text": "SOUTH", "align": "left", "baseline": "middle", "dx": 4, "dy": -8, "font": "Liberation Sans", "fontSize": 7.5, "color": "#222"},
  "encoding": {"theta": {"datum": 180, "scale": {"domain": [0, 360], "range": [0, 6.283185307179586]}}, "radius": {"datum": 20, "scale": {"type": "linear", "domain": [0, 20], "range": [0, 168], "zero": true, "nice": false}}}},
 {"data": {"values": [{}]}, "mark": {"type": "text", "text": "WEST", "align": "left", "baseline": "middle", "dx": 2, "dy": 5, "font": "Liberation Sans", "fontSize": 7.5, "color": "#222"},
  "encoding": {"theta": {"datum": 270, "scale": {"domain": [0, 360], "range": [0, 6.283185307179586]}}, "radius": {"datum": 20, "scale": {"type": "linear", "domain": [0, 20], "range": [0, 168], "zero": true, "nice": false}}}},
 {"data": {"values": [{}]}, "mark": {"type": "text", "text": "EAST", "align": "right", "baseline": "middle", "dx": -4, "dy": 5, "font": "Liberation Sans", "fontSize": 7.5, "color": "#222"},
  "encoding": {"theta": {"datum": 90, "scale": {"domain": [0, 360], "range": [0, 6.283185307179586]}}, "radius": {"datum": 20, "scale": {"type": "linear", "domain": [0, 20], "range": [0, 168], "zero": true, "nice": false}}}},
 {"data": {"name": "calms"}, "transform": [{"filter": "datum.st=='Naein'"}], "mark": {"type": "text", "align": "left", "baseline": "middle", "font": "Liberation Sans", "fontSize": 9, "color": "#111"},
  "encoding": {"theta": {"datum": 141.5, "scale": {"domain": [0, 360], "range": [0, 6.283185307179586]}}, "radius": {"datum": 35.4, "scale": {"type": "linear", "domain": [0, 20], "range": [0, 168], "zero": true, "nice": false}}, "text": {"field": "label"}}}
 ]},
{"width": 336, "height": 336, "title": "Natanz Station",
 "layer": [
 {"data": {"name": "rings"}, "transform": [{"filter": "datum.st=='Natanz'"}], "mark": {"type": "arc", "filled": false, "stroke": "#333", "strokeWidth": 1.2, "strokeDash": [1, 5]},
  "encoding": {"theta": {"datum": 0, "scale": {"domain": [0, 360], "range": [0, 6.283185307179586]}}, "theta2": {"datum": 360}, "radius": {"field": "ring", "type": "quantitative", "stack": null, "scale": {"type": "linear", "domain": [0, 20], "range": [0, 168], "zero": true, "nice": false}}}},
 {"data": {"values": [{"a": 0}, {"a": 135}, {"a": 180}]}, "mark": {"type": "arc", "filled": false, "stroke": "#1a1a80", "strokeWidth": 1, "strokeDash": [1, 2.5]},
  "encoding": {"theta": {"field": "a", "type": "quantitative", "stack": null, "scale": {"domain": [0, 360], "range": [0, 6.283185307179586]}}, "theta2": {"field": "a"}, "radius": {"datum": 20, "scale": {"type": "linear", "domain": [0, 20], "range": [0, 168], "zero": true, "nice": false}}}},
 {"data": {"name": "petals"}, "transform": [{"filter": "datum.st=='Natanz'"}], "mark": {"type": "arc", "stroke": "#000", "strokeWidth": 0.7, "thetaOffset": -0.08, "theta2Offset": 0.08},
  "encoding": {"theta": {"field": "dir", "type": "quantitative", "stack": null, "scale": {"domain": [0, 360], "range": [0, 6.283185307179586]}}, "theta2": {"field": "dir"},
   "radius": {"field": "hi", "type": "quantitative", "stack": null, "scale": {"type": "linear", "domain": [0, 20], "range": [0, 168], "zero": true, "nice": false}}, "radius2": {"field": "lo"},
   "color": {"field": "spd", "type": "nominal", "scale": {"domain": [">= 34", "28 - 34", "22 - 28", "17 - 22", "11 - 17", "7 - 11", "4 - 7", "1 - 4"], "range": ["#804000", "#8000FF", "#00FF00", "#FF00FF", "#EE1166", "#0000FF", "#FFFF00", "#C0C0C0"]}, "legend": {"title": ["WIND SPEED", "(Knots)"]}}}},
 {"data": {"values": [{}]}, "mark": {"type": "arc", "fill": "#fff", "stroke": "#333", "strokeWidth": 0.8, "strokeDash": [1, 1.5]},
  "encoding": {"theta": {"datum": 0, "scale": {"domain": [0, 360], "range": [0, 6.283185307179586]}}, "theta2": {"datum": 360}, "radius": {"datum": 0.6, "scale": {"type": "linear", "domain": [0, 20], "range": [0, 168], "zero": true, "nice": false}}}},
 {"data": {"name": "rings"}, "transform": [{"filter": "datum.st=='Natanz'"}], "mark": {"type": "text", "font": "Liberation Sans", "fontSize": 6.5, "color": "#444", "radiusOffset": -3},
  "encoding": {"theta": {"datum": 52, "scale": {"domain": [0, 360], "range": [0, 6.283185307179586]}}, "radius": {"field": "ring", "type": "quantitative", "stack": null, "scale": {"type": "linear", "domain": [0, 20], "range": [0, 168], "zero": true, "nice": false}}, "text": {"field": "lab"}}},
 {"data": {"values": [{}]}, "mark": {"type": "text", "text": "NORTH", "align": "left", "baseline": "middle", "dx": 4, "dy": 3, "font": "Liberation Sans", "fontSize": 7.5, "color": "#222"},
  "encoding": {"theta": {"datum": 0, "scale": {"domain": [0, 360], "range": [0, 6.283185307179586]}}, "radius": {"datum": 20, "scale": {"type": "linear", "domain": [0, 20], "range": [0, 168], "zero": true, "nice": false}}}},
 {"data": {"values": [{}]}, "mark": {"type": "text", "text": "SOUTH", "align": "left", "baseline": "middle", "dx": 4, "dy": -8, "font": "Liberation Sans", "fontSize": 7.5, "color": "#222"},
  "encoding": {"theta": {"datum": 180, "scale": {"domain": [0, 360], "range": [0, 6.283185307179586]}}, "radius": {"datum": 20, "scale": {"type": "linear", "domain": [0, 20], "range": [0, 168], "zero": true, "nice": false}}}},
 {"data": {"values": [{}]}, "mark": {"type": "text", "text": "WEST", "align": "left", "baseline": "middle", "dx": 2, "dy": 5, "font": "Liberation Sans", "fontSize": 7.5, "color": "#222"},
  "encoding": {"theta": {"datum": 270, "scale": {"domain": [0, 360], "range": [0, 6.283185307179586]}}, "radius": {"datum": 20, "scale": {"type": "linear", "domain": [0, 20], "range": [0, 168], "zero": true, "nice": false}}}},
 {"data": {"values": [{}]}, "mark": {"type": "text", "text": "EAST", "align": "right", "baseline": "middle", "dx": -4, "dy": 5, "font": "Liberation Sans", "fontSize": 7.5, "color": "#222"},
  "encoding": {"theta": {"datum": 90, "scale": {"domain": [0, 360], "range": [0, 6.283185307179586]}}, "radius": {"datum": 20, "scale": {"type": "linear", "domain": [0, 20], "range": [0, 168], "zero": true, "nice": false}}}},
 {"data": {"name": "calms"}, "transform": [{"filter": "datum.st=='Natanz'"}], "mark": {"type": "text", "align": "left", "baseline": "middle", "font": "Liberation Sans", "fontSize": 9, "color": "#111"},
  "encoding": {"theta": {"datum": 141.5, "scale": {"domain": [0, 360], "range": [0, 6.283185307179586]}}, "radius": {"datum": 35.4, "scale": {"type": "linear", "domain": [0, 20], "range": [0, 168], "zero": true, "nice": false}}, "text": {"field": "label"}}}
 ]}
], "spacing": 216, "bounds": "flush",
 "resolve": {"scale": {"color": "independent", "theta": "independent", "radius": "independent"}, "legend": {"color": "independent"}}}
], "spacing": 95,
 "resolve": {"scale": {"color": "independent", "theta": "independent", "radius": "independent"}, "legend": {"color": "independent"}}}
]
}
